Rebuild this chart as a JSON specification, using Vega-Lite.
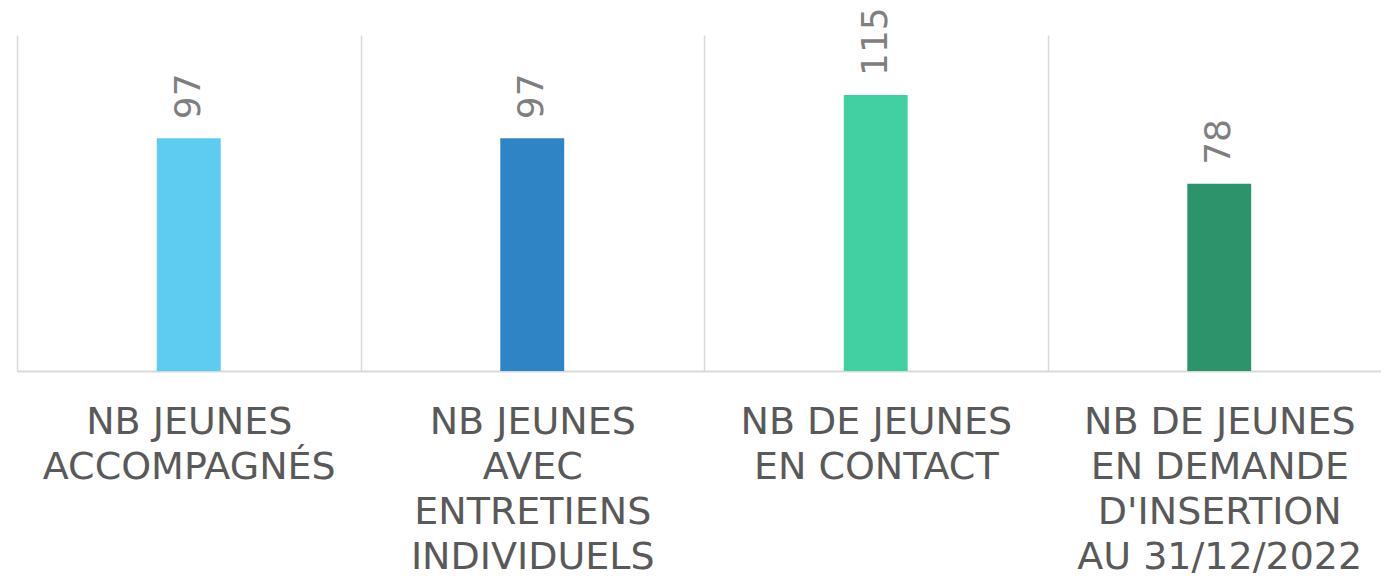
{
  "$schema": "https://vega.github.io/schema/vega-lite/v6.json",
  "autosize": {"type": "none"},
  "width": 1364,
  "height": 336,
  "padding": {"left": 17, "top": 35, "right": 0, "bottom": 205},
  "background": "white",
  "data": {
    "values": [
      {"categorie": "NB JEUNES\nACCOMPAGNÉS", "valeur": 97, "couleur": "c1"},
      {"categorie": "NB JEUNES\nAVEC\nENTRETIENS\nINDIVIDUELS", "valeur": 97, "couleur": "c2"},
      {"categorie": "NB DE JEUNES\nEN CONTACT", "valeur": 115, "couleur": "c3"},
      {"categorie": "NB DE JEUNES\nEN DEMANDE\nD'INSERTION\nAU 31/12/2022", "valeur": 78, "couleur": "c4"}
    ]
  },
  "encoding": {
    "x": {
      "field": "categorie",
      "type": "nominal",
      "sort": null,
      "scale": {"range": [0, 1374], "paddingInner": 0, "paddingOuter": 0},
      "axis": {
        "title": null,
        "orient": "bottom",
        "grid": true,
        "gridColor": "#d9d9d9",
        "gridWidth": 1.5,
        "tickBand": "extent",
        "ticks": false,
        "tickSize": 0,
        "domainColor": "#d9d9d9",
        "domainWidth": 2,
        "labelAngle": 0,
        "labelBaseline": "top",
        "labelPadding": 32,
        "labelFont": "DejaVu Sans",
        "labelFontSize": 38,
        "labelColor": "#595959",
        "labelLineHeight": 45,
        "labelLimit": 600,
        "labelOverlap": false,
        "labelFlush": false,
        "labelExpr": "datum.value ? split(datum.value, '\\n') : ''"
      }
    },
    "y": {
      "field": "valeur",
      "type": "quantitative",
      "scale": {"domain": [0, 140], "nice": false},
      "axis": null
    }
  },
  "layer": [
    {
      "mark": {"type": "bar", "width": {"band": 0.186}},
      "encoding": {
        "color": {
          "field": "couleur",
          "type": "nominal",
          "scale": {"domain": ["c1", "c2", "c3", "c4"], "range": ["#5ECBF0", "#2E84C4", "#42D0A2", "#2D936B"]},
          "legend": null
        }
      }
    },
    {
      "mark": {
        "type": "text",
        "angle": 270,
        "align": "left",
        "baseline": "middle",
        "dx": 19,
        "font": "DejaVu Sans",
        "fontSize": 36,
        "color": "#7f7f7f"
      },
      "encoding": {
        "text": {"field": "valeur", "type": "quantitative"}
      }
    }
  ],
  "config": {"view": {"stroke": null}}
}
